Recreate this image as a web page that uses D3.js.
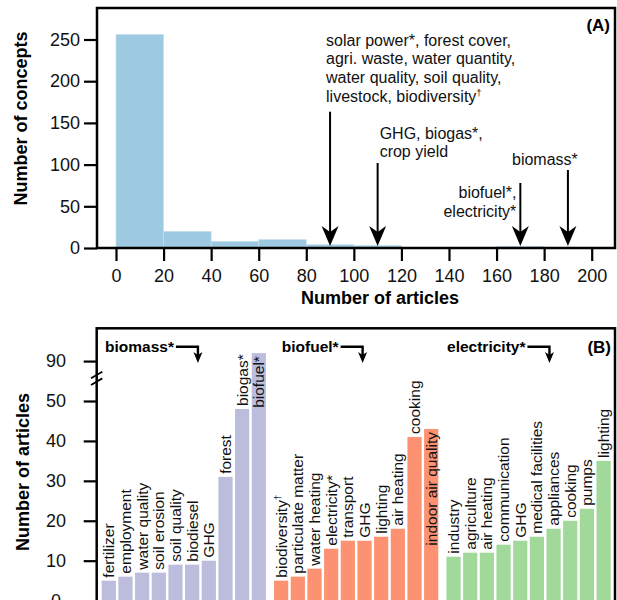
<!DOCTYPE html>
<html>
<head>
<meta charset="utf-8">
<script src="https://cdn.jsdelivr.net/npm/d3@7"></script>
<style>
  body { margin: 0; background: #fff; }
  svg { font-family: "Liberation Sans", Arial, Helvetica, sans-serif; }
</style>
</head>
<body>
<svg id="chart" width="617" height="600"></svg>
<script>

// panel A: histogram of concepts per number of articles
var binEdges = [0, 20, 40, 60, 80, 100, 120, 140, 160, 180, 200];
var binCounts = [256, 20, 8, 10, 4, 3, 0, 0, 2, 1];
var histXTicks = [0, 20, 40, 60, 80, 100, 120, 140, 160, 180, 200];
var histYTicks = [0, 50, 100, 150, 200, 250];
var noteArticles = [90, 110, 170, 190];
var noteTexts = [
  ["solar power*, forest cover,", "agri. waste, water quantity,", "water quality, soil quality,", "livestock, biodiversity\u2020"],
  ["GHG, biogas*,", "crop yield"],
  ["biofuel*,", "electricity*"],
  ["biomass*"]
];

// panel B: top concepts linked to biomass, biofuel, electricity
var groupNames = ["biomass*", "biofuel*", "electricity*"];
var biomassLabels = ["fertilizer", "employment", "water quality", "soil erosion", "soil quality", "biodiesel", "GHG", "forest", "biogas*", "biofuel*"];
var biomassValues = [5, 6, 7, 7, 9, 9, 10, 31, 48, 92];
var biofuelLabels = ["biodiversity\u2020", "particulate matter", "water heating", "electricity*", "transport", "GHG", "lighting", "air heating", "cooking", "indoor air quality"];
var biofuelValues = [5, 6, 8, 13, 15, 15, 16, 18, 41, 43];
var electricityLabels = ["industry", "agriculture", "air heating", "communication", "GHG", "medical facilities", "appliances", "cooking", "pumps", "lighting"];
var electricityValues = [11, 12, 12, 14, 15, 16, 18, 20, 23, 35];
var barYTicks = [0, 10, 20, 30, 40, 50, 90];

var groupColors = ["#bcbddc", "#fc9272", "#a1d99b"];
var histColor = "#9ecae1";

var svg = d3.select("#chart");

// writes a string, turning the dagger into a superscript
function addText(sel, str) {
  var parts = str.split("\u2020");
  sel.append("tspan").text(parts[0]);
  if (parts.length > 1) {
    sel.append("tspan").attr("font-size", "0.6em").attr("dy", "-0.55em").text("\u2020");
  }
}

function arrowHead(g, x, tipY, w, h, notch) {
  g.append("path")
    .attr("d", "M" + x + "," + tipY + "L" + (x - w / 2) + "," + (tipY - h) +
      "L" + x + "," + (tipY - h + notch) + "L" + (x + w / 2) + "," + (tipY - h) + "Z")
    .attr("fill", "#000");
}

/* ---------- panel A ---------- */
var ax = d3.scaleLinear().domain([0, 200]).range([116, 591.7]);
var ay = d3.scaleLinear().domain([0, 250]).range([248, 39.5]);
var boxA = { l: 97, t: 8, r: 615, b: 248 };

var gA = svg.append("g");
var bins = binCounts.map(function(c, i) { return { x0: binEdges[i], x1: binEdges[i + 1], n: c }; });

gA.selectAll("rect.bin").data(bins.filter(function(d) { return d.n > 0; }))
  .enter().append("rect")
  .attr("class", "bin")
  .attr("x", function(d) { return ax(d.x0); })
  .attr("width", function(d) { return ax(d.x1) - ax(d.x0); })
  .attr("y", function(d) { return ay(d.n); })
  .attr("height", function(d) { return ay(0) - ay(d.n); })
  .attr("fill", histColor)
  .attr("stroke", "#c4dfee")
  .attr("stroke-width", 0.6);

var xAxisA = d3.axisBottom(ax).tickValues(histXTicks).tickSize(13).tickPadding(8);
gA.append("g").attr("transform", "translate(0," + boxA.b + ")").call(xAxisA)
  .call(function(g) {
    g.select(".domain").remove();
    g.selectAll("line").attr("stroke-width", 2.2);
    g.selectAll("text").attr("font-size", 18).attr("font-family", null).attr("fill", "#111");
  });

var yAxisA = d3.axisLeft(ay).tickValues(histYTicks).tickSize(13).tickPadding(4);
gA.append("g").attr("transform", "translate(" + boxA.l + ",0)").call(yAxisA)
  .call(function(g) {
    g.select(".domain").remove();
    g.selectAll("line").attr("stroke-width", 2.2);
    g.selectAll("text").attr("font-size", 18).attr("font-family", null).attr("fill", "#111");
  });

gA.append("rect").attr("x", boxA.l).attr("y", boxA.t)
  .attr("width", boxA.r - boxA.l).attr("height", boxA.b - boxA.t)
  .attr("fill", "none").attr("stroke", "#000").attr("stroke-width", 2.5);

// arrows and notes
var noteLayout = [
  { anchor: "start", dx: -4, y0: 40, top: 111.7 },
  { anchor: "start", dx: 2, y0: 133, top: 163 },
  { anchor: "end", dx: -4, y0: 192.7, top: 183 },
  { anchor: "middle", dx: -23, y0: 159.3, top: 170 }
];
noteArticles.forEach(function(a, i) {
  var L = noteLayout[i], x = ax(a), tip = 246;
  gA.append("line").attr("x1", x).attr("x2", x).attr("y1", L.top).attr("y2", tip - 10)
    .attr("stroke", "#000").attr("stroke-width", 2);
  arrowHead(gA, x, tip, 17, 20, 6);
  noteTexts[i].forEach(function(s, j) {
    var t = gA.append("text").attr("x", x + L.dx).attr("y", L.y0 + j * 18.7 + 5.5)
      .attr("text-anchor", L.anchor).attr("font-size", 16).attr("fill", "#111");
    addText(t, s);
  });
});

gA.append("text").attr("x", 610).attr("y", 31).attr("text-anchor", "end")
  .attr("font-size", 17).attr("font-weight", "bold").text("(A)");
gA.append("text").attr("x", 380).attr("y", 304).attr("text-anchor", "middle")
  .attr("font-size", 18).attr("font-weight", "bold").text("Number of articles");
gA.append("text").attr("transform", "translate(27,118.5) rotate(-90)").attr("text-anchor", "middle")
  .attr("font-size", 18).attr("font-weight", "bold").text("Number of concepts");

/* ---------- panel B ---------- */
var boxB = { l: 96.7, t: 328.3, r: 615, b: 630 };
var byBase = d3.scaleLinear().domain([0, 50]).range([600.6, 401]);
function by(v) { return byBase(v > 50 ? v - 30 : v); }
var slot = d3.scaleLinear().domain([0, 1]).range([101.7, 118.37]);
var barW = 14.2, groupStep = 10.34;

var groups = [
  { labels: biomassLabels, values: biomassValues },
  { labels: biofuelLabels, values: biofuelValues },
  { labels: electricityLabels, values: electricityValues }
];
var bars = [];
groups.forEach(function(g, gi) {
  g.values.forEach(function(v, i) {
    bars.push({ g: gi, i: i, v: v, label: g.labels[i], s: gi * groupStep + i });
  });
});

var gB = svg.append("g");
gB.selectAll("rect.bar").data(bars).enter().append("rect")
  .attr("class", "bar")
  .attr("x", function(d) { return slot(d.s); })
  .attr("width", barW)
  .attr("y", function(d) { return by(d.v); })
  .attr("height", function(d) { return by(0) - by(d.v) + 30; })
  .attr("fill", function(d) { return groupColors[d.g]; });

gB.selectAll("text.lab").data(bars).enter().append("text")
  .attr("class", "lab")
  .attr("font-size", 15.5).attr("fill", "#111")
  .attr("dy", "0.35em")
  .each(function(d) {
    var t = d3.select(this);
    addText(t, d.label);
    var cx = slot(d.s) + barW / 2, top = by(d.v);
    var len = this.getComputedTextLength();
    if (top - 3 - len < boxB.t + 4) {
      t.attr("text-anchor", "end").attr("transform", "translate(" + cx + "," + (top + 3) + ") rotate(-90)");
    } else {
      t.attr("text-anchor", "start").attr("transform", "translate(" + cx + "," + (top - 3) + ") rotate(-90)");
    }
  });

// y axis with break
var yAxisB = d3.axisLeft(byBase).tickValues(barYTicks.map(function(v) { return v > 50 ? v - 30 : v; }))
  .tickFormat(function(v) { return v > 50 ? v + 30 : v; }).tickSize(13).tickPadding(0);
gB.append("g").attr("transform", "translate(" + boxB.l + ",0)").call(yAxisB)
  .call(function(g) {
    g.select(".domain").remove();
    g.selectAll("line").attr("stroke-width", 2.2);
    g.selectAll("text").attr("font-size", 18).attr("font-family", null).attr("fill", "#111")
      .attr("text-anchor", "middle").attr("x", -40.7);
  });

gB.append("rect").attr("x", boxB.l).attr("y", boxB.t)
  .attr("width", boxB.r - boxB.l).attr("height", boxB.b - boxB.t)
  .attr("fill", "none").attr("stroke", "#000").attr("stroke-width", 2.5);

[0, 6.7].forEach(function(off) {
  gB.append("line").attr("x1", 91).attr("y1", 378.3 + off).attr("x2", 102.3).attr("y2", 371.7 + off)
    .attr("stroke", "#000").attr("stroke-width", 1.8);
});

// group headers with bent arrows
var headerDx = [3.3, 7.7, 0.6];
groupNames.forEach(function(name, gi) {
  var x0 = slot(gi * groupStep) + headerDx[gi];
  var t = gB.append("text").attr("x", x0).attr("y", 352).attr("font-size", 15.5)
    .attr("font-weight", "bold").text(name);
  var end = x0 + t.node().getComputedTextLength();
  var ax2 = end + 24;
  gB.append("path").attr("d", "M" + (end + 2) + ",346.7H" + ax2 + "V355")
    .attr("fill", "none").attr("stroke", "#000").attr("stroke-width", 2.4);
  arrowHead(gB, ax2, 363, 9, 11, 3);
});

gB.append("text").attr("x", 611).attr("y", 353).attr("text-anchor", "end")
  .attr("font-size", 17).attr("font-weight", "bold").text("(B)");
gB.append("text").attr("transform", "translate(29,472) rotate(-90)").attr("text-anchor", "middle")
  .attr("font-size", 18).attr("font-weight", "bold").text("Number of articles");

</script>
</body>
</html>
